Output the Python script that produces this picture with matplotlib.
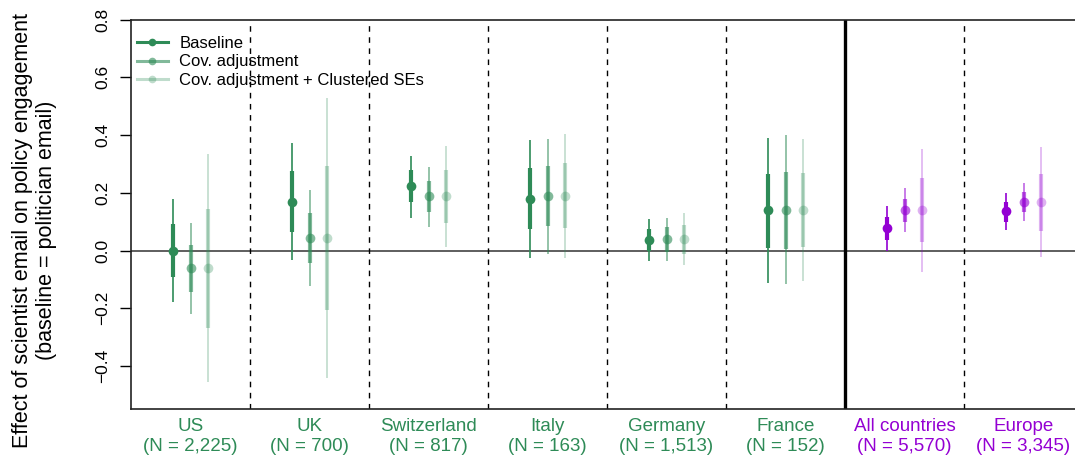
import matplotlib
matplotlib.use("Agg")
import matplotlib.pyplot as plt
import numpy as np

plt.rcParams['font.family'] = ['Liberation Sans', 'DejaVu Sans']

groups = ["US", "UK", "Switzerland", "Italy", "Germany", "France", "All countries", "Europe"]
n_labels = ["(N = 2,225)", "(N = 700)", "(N = 817)", "(N = 163)", "(N = 1,513)", "(N = 152)", "(N = 5,570)", "(N = 3,345)"]
is_pooled = [False, False, False, False, False, False, True, True]

series = ["Baseline", "Cov. adjustment", "Cov. adjustment + Clustered SEs"]

# estimates per group for each series
est_base = [0.000, 0.170, 0.224, 0.180, 0.037, 0.140, 0.078, 0.136]
est_cov  = [-0.060, 0.045, 0.190, 0.190, 0.040, 0.142, 0.140, 0.170]
est_cl   = [-0.060, 0.045, 0.190, 0.190, 0.040, 0.142, 0.140, 0.170]

# inner (thick) intervals
in_lo_base = [-0.092, 0.066, 0.167, 0.074, -0.001, 0.008, 0.036, 0.100]
in_hi_base = [0.092, 0.274, 0.279, 0.286, 0.076, 0.267, 0.118, 0.169]
in_lo_cov  = [-0.145, -0.043, 0.133, 0.084, -0.004, 0.005, 0.099, 0.132]
in_hi_cov  = [0.020, 0.131, 0.242, 0.294, 0.080, 0.273, 0.180, 0.204]
in_lo_cl   = [-0.267, -0.207, 0.096, 0.077, -0.013, 0.012, 0.030, 0.068]
in_hi_cl   = [0.144, 0.294, 0.279, 0.302, 0.088, 0.269, 0.250, 0.267]

# outer (thin) intervals
out_lo_base = [-0.178, -0.032, 0.114, -0.025, -0.036, -0.112, -0.001, 0.071]
out_hi_base = [0.178, 0.372, 0.329, 0.384, 0.109, 0.391, 0.156, 0.199]
out_lo_cov  = [-0.220, -0.123, 0.083, -0.011, -0.036, -0.117, 0.064, 0.103]
out_hi_cov  = [0.097, 0.211, 0.291, 0.388, 0.114, 0.399, 0.217, 0.233]
out_lo_cl   = [-0.457, -0.441, 0.012, -0.025, -0.050, -0.106, -0.073, -0.022]
out_hi_cl   = [0.335, 0.530, 0.364, 0.404, 0.130, 0.388, 0.352, 0.358]

green = "#2E8B57"
purple = "#9400D3"
alphas = [1.0, 0.6, 0.3]
offsets = [-0.15, 0.0, 0.15]

fig = plt.figure(figsize=(10.75, 4.62), dpi=100)
ax = fig.add_axes([131 / 1075, 1 - 409.3 / 462, 952 / 1075, (409.3 - 19.7) / 462])

ax.set_xlim(0, 8)
ax.set_ylim(-0.55, 0.8)

ax.axhline(0, color="#333333", lw=1.1, zorder=1)
for i in range(1, 8):
    if i == 6:
        ax.axvline(i, color="black", lw=2.4, zorder=1)
    else:
        ax.axvline(i, color="black", lw=1.0, ls=(0, (4, 4)), zorder=1)

all_est = [est_base, est_cov, est_cl]
all_in_lo = [in_lo_base, in_lo_cov, in_lo_cl]
all_in_hi = [in_hi_base, in_hi_cov, in_hi_cl]
all_out_lo = [out_lo_base, out_lo_cov, out_lo_cl]
all_out_hi = [out_hi_base, out_hi_cov, out_hi_cl]

for g in range(len(groups)):
    col = purple if is_pooled[g] else green
    for s in range(3):
        x = g + 0.5 + offsets[s]
        a = alphas[s]
        ax.plot([x, x], [all_out_lo[s][g], all_out_hi[s][g]], color=col, alpha=a, lw=1.2,
                solid_capstyle="butt", zorder=2)
        ax.plot([x, x], [all_in_lo[s][g], all_in_hi[s][g]], color=col, alpha=a, lw=3.0,
                solid_capstyle="butt", zorder=2)
        ax.plot([x], [all_est[s][g]], marker="o", color=col, alpha=a, ms=7, mec="none", zorder=3)

# legend
handles = []
for s in range(3):
    h, = ax.plot([], [], color=green, alpha=alphas[s], lw=2.2, marker="o", ms=5.5, mec="none")
    handles.append(h)
leg = ax.legend(handles, series, loc="upper left", frameon=False, fontsize=12,
                handlelength=1.85, handletextpad=0.7, labelspacing=0.2,
                borderaxespad=0.0, bbox_to_anchor=(-0.001, 0.975))

ax.set_xticks([g + 0.5 for g in range(len(groups))])
ax.set_xticklabels([f"{a}\n{b}" for a, b in zip(groups, n_labels)], fontsize=13.5, linespacing=1.25)
for lab, p in zip(ax.get_xticklabels(), is_pooled):
    lab.set_color(purple if p else green)
ax.tick_params(axis="x", length=0, pad=6)

yt = [-0.4, -0.2, 0.0, 0.2, 0.4, 0.6, 0.8]
ax.set_yticks(yt)
ax.set_yticklabels([f"{v:.1f}".replace("-", "\u2212") for v in yt], rotation=90, va="center", fontsize=12.5)
ax.tick_params(axis="y", length=8, width=1, pad=7, colors="black")

ax.set_ylabel("Effect of scientist email on policy engagement\n(baseline = politician email)",
              fontsize=15.5, labelpad=21, linespacing=1.15)
ax.yaxis.set_label_coords(-0.078, 0.46)

for sp in ["right"]:
    ax.spines[sp].set_visible(False)
for sp in ["top", "left", "bottom"]:
    ax.spines[sp].set_linewidth(1.2)
    ax.spines[sp].set_color("#222222")

fig.savefig("out.png", dpi=100)
